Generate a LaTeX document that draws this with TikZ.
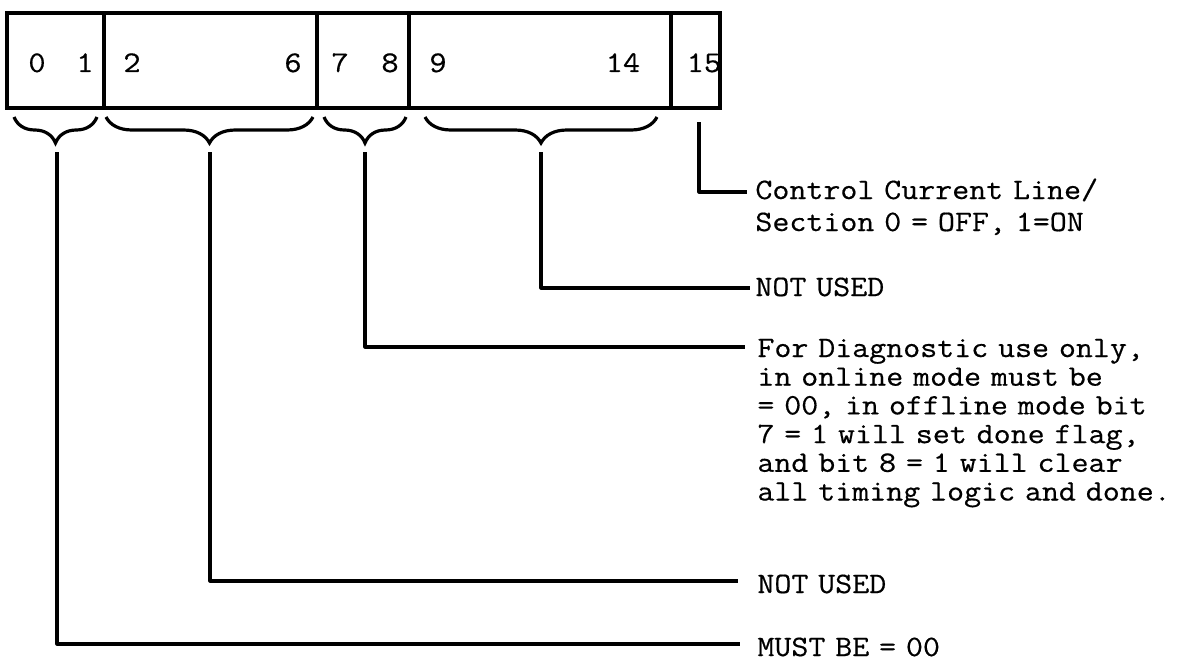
\documentclass[tikz,border=0pt]{standalone}
\usepackage{fontspec}
\newfontfamily\twfont{Latin Modern Mono}[FakeBold=0.5,FakeStretch=1.115]
\usetikzlibrary{decorations.pathreplacing}
\begin{document}
\begin{tikzpicture}[x=0.5bp,y=-0.5bp,
  reg/.style={line width=2bp},
  conn/.style={line width=1.6bp, line join=round},
  brc/.style={line width=1.6bp, decorate, decoration={brace, mirror, amplitude=13bp}},
  bit/.style={font=\twfont\fontsize{15bp}{18bp}\selectfont, anchor=base, inner sep=0},
  lbl/.style={font=\twfont\fontsize{14.8bp}{14.35bp}\selectfont, anchor=base west, inner sep=0, text width=240bp, align=left}]
\useasboundingbox (0,0) rectangle (1187,662);
% register
\draw[reg] (7,13) rectangle (720,108);
\foreach \x in {104,317,409,671} \draw[reg] (\x,13) -- (\x,108);
% bit numbers
\node[bit] (b0) at (37,72) {0};
\node[bit] (b1) at (85,72) {1};
\node[bit] (b2) at (132,72) {2};
\node[bit] (b6) at (293,72) {6};
\node[bit] (b7) at (340,72) {7};
\node[bit] (b8) at (390,72) {8};
\node[bit] (b9) at (438,72) {9};
\node[bit] (b14) at (623,72) {14};
\node[bit] (b15) at (704,72) {15};
% braces
\draw[brc] (14,117) -- (97,117);
\draw[brc] (106,117) -- (313,117);
\draw[brc] (324,117) -- (406,117);
\draw[brc] (425,117) -- (657,117);
% connector ends
\coordinate (t01) at (57,152);
\coordinate (t26) at (210,152);
\coordinate (t78) at (365,152);
\coordinate (t914) at (541,152);
\coordinate (t15) at (699,122);
\coordinate (e15) at (747,192);
\coordinate (e914) at (750,288);
\coordinate (e78) at (745,347);
\coordinate (e26) at (738,581);
\coordinate (e01) at (740,644);
% labels
\node[lbl, font=\twfont\fontsize{14.8bp}{16bp}\selectfont] (l15) at (755,199) {Control Current Line/\\Section 0 = OFF, 1=ON};
\node[lbl] (l914) at (755,296) {NOT USED};
\node[lbl] (l78) at (757,357) {For Diagnostic use only,\\in online mode must be\\= 00, in offline mode bit\\7 = 1 will set done flag,\\and bit 8 = 1 will clear\\all timing logic and done.};
\node[lbl] (l26) at (757,593) {NOT USED};
\node[lbl] (l01) at (757,656) {MUST BE = 00};
% connectors
\draw[conn] (t15) |- (e15);
\draw[conn] (t914) |- (e914);
\draw[conn] (t78) |- (e78);
\draw[conn] (t26) |- (e26);
\draw[conn] (t01) |- (e01);
\end{tikzpicture}
\end{document}
